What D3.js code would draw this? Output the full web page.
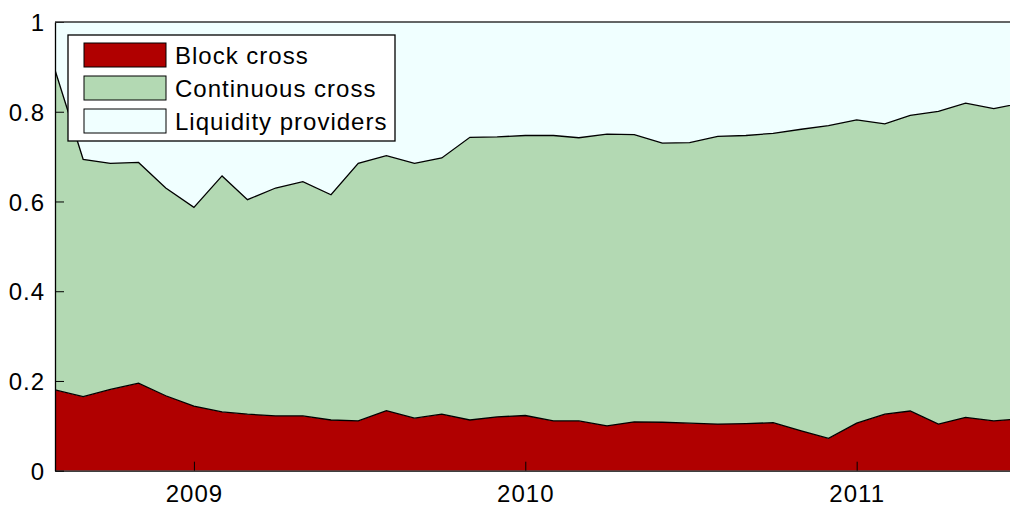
<!DOCTYPE html>
<html>
<head>
<meta charset="utf-8">
<script src="https://cdn.jsdelivr.net/npm/d3@7"></script>
<style>
  body { margin: 0; background: #fff; }
  text { font-family: "Liberation Sans", Arial, sans-serif; fill: #000; }
</style>
</head>
<body>
<script>
const width = 1010;
const height = 506;

// monthly shares, Aug 2008 .. Jul 2011
const months = d3.range(36).map(i => new Date(2008, 7 + i, 1));
const seriesNames = ["Block cross", "Continuous cross", "Liquidity providers"];
const blockCross = [0.180,0.165,0.181,0.195,0.167,0.144,0.131,0.126,0.122,0.122,0.113,0.111,
  0.134,0.117,0.126,0.113,0.120,0.123,0.111,0.111,0.100,0.109,0.108,0.106,
  0.104,0.105,0.107,0.089,0.072,0.106,0.126,0.133,0.104,0.119,0.111,0.116];
const continuousCross = [0.713,0.529,0.504,0.492,0.463,0.443,0.526,0.478,0.508,0.522,0.502,0.574,
  0.568,0.568,0.571,0.630,0.624,0.624,0.636,0.631,0.650,0.640,0.622,0.625,
  0.641,0.642,0.645,0.672,0.697,0.676,0.647,0.659,0.697,0.700,0.696,0.703];
const liquidityProviders = [0.107,0.306,0.315,0.313,0.370,0.413,0.343,0.396,0.370,0.356,0.385,0.315,
  0.298,0.315,0.303,0.257,0.256,0.253,0.253,0.258,0.250,0.251,0.270,0.269,
  0.255,0.253,0.248,0.239,0.231,0.218,0.227,0.208,0.199,0.181,0.193,0.181];
const yTicks = [0, 0.2, 0.4, 0.6, 0.8, 1];
const xTicks = [new Date(2009, 0, 1), new Date(2010, 0, 1), new Date(2011, 0, 1)];
const colors = ["#b00000", "#b3d9b3", "#f0ffff"];

const table = months.map((m, i) => ({
  date: m,
  "Block cross": blockCross[i],
  "Continuous cross": continuousCross[i],
  "Liquidity providers": liquidityProviders[i]
}));

const margin = {top: 22, left: 55, bottom: 36};
const x = d3.scaleTime()
  .domain([months[0], months[months.length - 1]])
  .range([margin.left, 1021]);
const y = d3.scaleLinear()
  .domain([0, 1])
  .range([height - margin.bottom + 0.7, margin.top]);

const svg = d3.select("body").append("svg")
  .attr("width", width)
  .attr("height", height);

svg.append("clipPath").attr("id", "plot")
  .append("rect")
  .attr("x", margin.left).attr("y", y(1))
  .attr("width", width - margin.left).attr("height", y(0) - y(1));

const stacked = d3.stack().keys(seriesNames)(table);

const area = d3.area()
  .x(d => x(d.data.date))
  .y0(d => y(d[0]))
  .y1(d => y(d[1]));
const edge = d3.line()
  .x(d => x(d.data.date))
  .y(d => y(d[1]));

const g = svg.append("g").attr("clip-path", "url(#plot)");
g.selectAll("path.area").data(stacked).enter().append("path")
  .attr("class", "area")
  .attr("d", area)
  .attr("fill", (d, i) => colors[i]);
g.selectAll("path.edge").data(stacked.slice(0, 2)).enter().append("path")
  .attr("class", "edge")
  .attr("d", edge)
  .attr("fill", "none")
  .attr("stroke", "#000")
  .attr("stroke-width", 1.3);

// axes, ticks pointing inwards
const yAxis = d3.axisLeft(y).tickValues(yTicks).tickSizeInner(-9).tickSizeOuter(0)
  .tickPadding(10).tickFormat(d => d3.format("")(d));
const xAxis = d3.axisBottom(x).tickValues(xTicks).tickSizeInner(-9).tickSizeOuter(0)
  .tickPadding(14).tickFormat(d3.timeFormat("%Y"));

const ya = svg.append("g").attr("transform", `translate(${margin.left},0)`).call(yAxis);
const xa = svg.append("g").attr("transform", `translate(0,${y(0)})`).call(xAxis);
[ya, xa].forEach(a => {
  a.attr("font-size", null).attr("font-family", null);
  a.selectAll("text").style("font-size", "24px").style("letter-spacing", "1px");
  a.select(".domain").attr("stroke", "#000").attr("stroke-width", 1.3);
  a.selectAll(".tick line").attr("stroke", "#000");
});
ya.selectAll("text").attr("dy", "0.36em");

// top border
svg.append("line")
  .attr("x1", margin.left).attr("x2", width)
  .attr("y1", y(1)).attr("y2", y(1))
  .attr("stroke", "#333").attr("stroke-width", 1.3);

// legend
const legend = svg.append("g").attr("transform", "translate(68,35)");
legend.append("rect")
  .attr("width", 327).attr("height", 106)
  .attr("fill", "#fff").attr("stroke", "#000").attr("stroke-width", 1.3);
seriesNames.forEach((name, i) => {
  const row = legend.append("g").attr("transform", `translate(0,${8 + i * 33})`);
  row.append("rect")
    .attr("x", 16).attr("width", 82).attr("height", 24)
    .attr("fill", colors[i]).attr("stroke", "#000").attr("stroke-width", 1);
  row.append("text")
    .attr("x", 107).attr("y", 21)
    .style("font-size", "24px")
    .style("letter-spacing", "1px")
    .text(name);
});
</script>
</body>
</html>
